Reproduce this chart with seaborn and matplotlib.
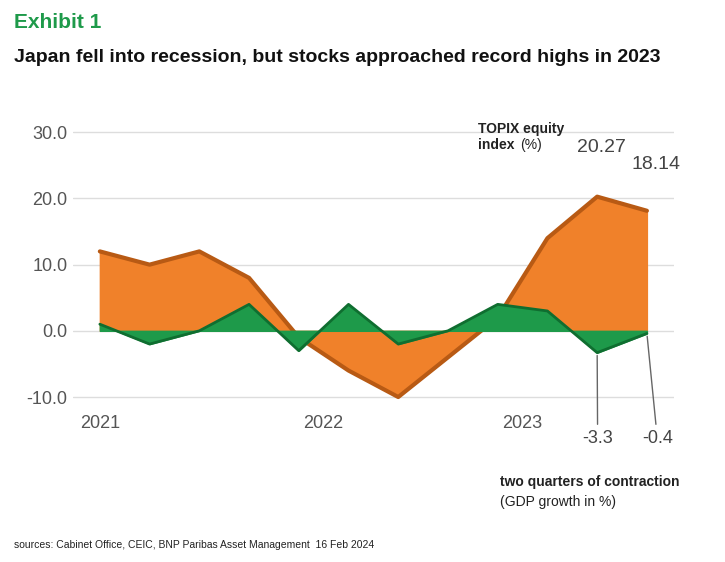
import numpy as np
import pandas as pd
import seaborn as sns
import matplotlib.pyplot as plt

quarters = ['2021Q1', '2021Q2', '2021Q3', '2021Q4', '2022Q1', '2022Q2', '2022Q3',
            '2022Q4', '2023Q1', '2023Q2', '2023Q3', '2023Q4']
topix = [12.0, 10.0, 12.0, 8.0, -1.0, -6.0, -10.0, -4.0, 2.0, 14.0, 20.27, 18.14]
gdp = [1.0, -2.0, 0.0, 4.0, -3.0, 4.0, -2.0, 0.0, 4.0, 3.0, -3.3, -0.4]
year_labels = ['2021', '2022', '2023']
year_pos = [0, 4.5, 8.5]

df = pd.DataFrame({'q': quarters, 'x': range(len(quarters)), 'topix': topix, 'gdp': gdp})

sns.set_theme(style='white')
plt.rcParams['font.family'] = ['Liberation Sans', 'DejaVu Sans']

fig, ax = plt.subplots(figsize=(7.25, 5.62), dpi=100)
fig.subplots_adjust(left=0.1, right=0.93, top=0.8, bottom=0.27)

orange = '#f0812a'
green = '#1e9a4a'
ax.fill_between(df['x'], 0, df['topix'], color=orange, zorder=2)
sns.lineplot(data=df, x='x', y='topix', color='#b85a14', lw=3, ax=ax, zorder=3)
ax.fill_between(df['x'], 0, df['gdp'], color=green, zorder=4)
sns.lineplot(data=df, x='x', y='gdp', color='#0f6e30', lw=2, ax=ax, zorder=5)

ax.set_ylim(-12, 33)
ax.set_yticks([-10, 0, 10, 20, 30])
ax.set_yticklabels([f'{v:.1f}' for v in [-10, 0, 10, 20, 30]], fontsize=13, color='#555555')
ax.set_xticks(year_pos)
ax.set_xticklabels(year_labels, fontsize=13, color='#555555')
ax.grid(axis='y', color='#dddddd')
ax.set_xlabel('')
ax.set_ylabel('')
for s in ax.spines.values():
    s.set_visible(False)
ax.tick_params(length=0)

ax.annotate('20.27', (10, 20.27), xytext=(9.6, 27), fontsize=14, color='#444444')
ax.annotate('18.14', (11, 18.14), xytext=(10.7, 24.5), fontsize=14, color='#444444')
ax.annotate('-3.3', (10, -3.3), xytext=(9.7, -17), fontsize=13, color='#444444',
            annotation_clip=False, arrowprops=dict(arrowstyle='-', color='#666666'))
ax.annotate('-0.4', (11, -0.4), xytext=(10.9, -17), fontsize=13, color='#444444',
            annotation_clip=False, arrowprops=dict(arrowstyle='-', color='#666666'))
ax.text(7.6, 27.5, 'TOPIX equity\nindex', fontsize=10, fontweight='bold', color='#222222')
ax.text(8.45, 27.5, '(%)', fontsize=10, color='#222222')
fig.text(0.69, 0.135, 'two quarters of contraction', fontsize=10, fontweight='bold', color='#222222')
fig.text(0.69, 0.1, '(GDP growth in %)', fontsize=10, color='#222222')

fig.text(0.02, 0.95, 'Exhibit 1', fontsize=15, fontweight='bold', color='#1e9a4a')
fig.text(0.02, 0.89, 'Japan fell into recession, but stocks approached record highs in 2023',
         fontsize=14, fontweight='bold', color='#111111')
fig.text(0.02, 0.025, 'sources: Cabinet Office, CEIC, BNP Paribas Asset Management  16 Feb 2024',
         fontsize=7.5, color='#222222')

fig.savefig('out.png', dpi=100)
